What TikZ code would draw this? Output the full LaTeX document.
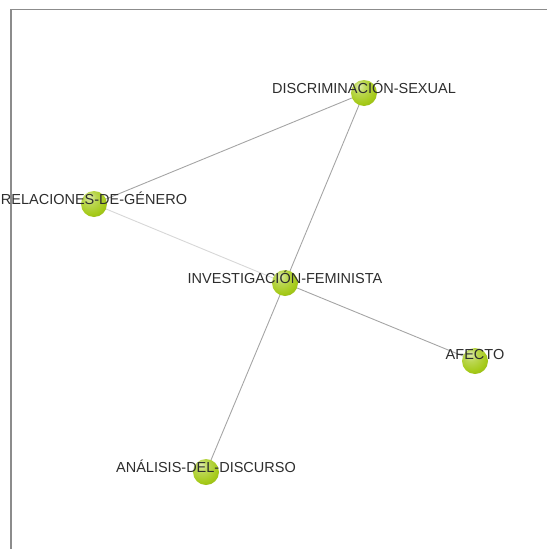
\documentclass[tikz,border=0pt]{standalone}
\usepackage{fontspec}
\setmainfont{Liberation Sans}
\usetikzlibrary{backgrounds}

\definecolor{netBallColor}{RGB}{165,202,25}
\definecolor{netEdgeColor}{RGB}{165,165,165}
\definecolor{netWeakEdgeColor}{RGB}{215,215,215}
\definecolor{netTextColor}{RGB}{45,45,45}
\definecolor{netFrameColor}{RGB}{140,140,140}

\pgfdeclareradialshading{limeball}{\pgfpoint{-10bp}{14bp}}{%
  color(0bp)=(netBallColor!35!white);
  color(12bp)=(netBallColor!75!white);
  color(28bp)=(netBallColor);
  color(50bp)=(netBallColor!78!black);
  color(70bp)=(netBallColor!65!black)}

\begin{document}
\begin{tikzpicture}[x=1pt,y=-1pt]
            \tikzset{term/.style={circle, minimum size=26pt, inner sep=0pt, shading=limeball},
                     tag/.style={text=netTextColor, font=\fontsize{14.5}{16}\selectfont, inner sep=0pt, yshift=6pt},
                     link/.style={draw=netEdgeColor, line width=0.9pt}}

            \useasboundingbox (0,0) rectangle (547,549);
            \draw[netFrameColor, line width=1.4pt] (11,549) -- (11,9.5) -- (547,9.5);

            \node[term, label={[tag]center:DISCRIMINACIÓN-SEXUAL}] (disc) at (364,93) {};
            \node[term, label={[tag]center:RELACIONES-DE-GÉNERO}] (rel) at (94,204) {};
            \node[term, label={[tag]center:INVESTIGACIÓN-FEMINISTA}] (inv) at (285,283) {};
            \node[term, label={[tag]center:AFECTO}] (afecto) at (475,361) {};
            \node[term, label={[tag]center:ANÁLISIS-DEL-DISCURSO}] (analisis) at (206,472) {};

            \begin{scope}[on background layer]
                \draw[link] (rel) -- (disc);
                \draw[link] (disc) -- (inv);
                \draw[link, draw=netWeakEdgeColor] (rel) -- (inv);
                \draw[link] (inv) -- (afecto);
                \draw[link] (inv) -- (analisis);
            \end{scope}
        \end{tikzpicture}
\end{document}
